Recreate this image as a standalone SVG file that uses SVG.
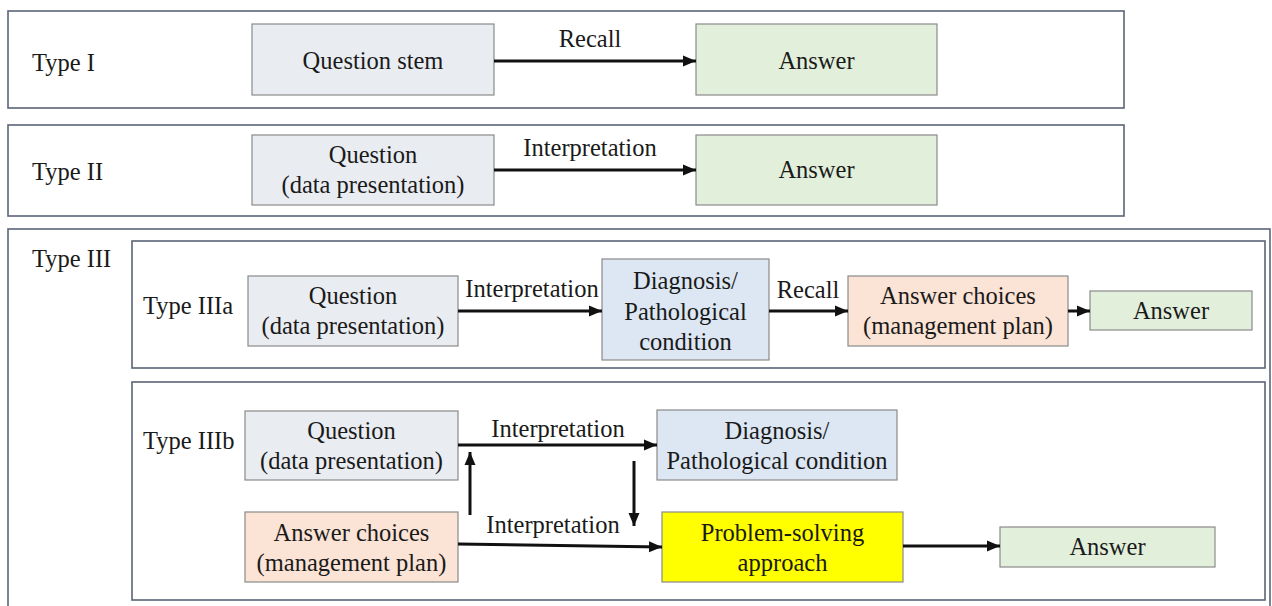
<svg xmlns="http://www.w3.org/2000/svg" width="1272" height="606" viewBox="0 0 1272 606">
<defs>
<marker id="ah" markerUnits="userSpaceOnUse" markerWidth="14" markerHeight="12" refX="13" refY="6" orient="auto">
<path d="M0,0.5 L13,6 L0,11.5 Z" fill="#111"/>
</marker>
<style>
.frame{fill:#fff;stroke:#5b6579;stroke-width:1.6}
.box{stroke:#8a8a8a;stroke-width:1.2}
.q{fill:#e9ecf1}
.a{fill:#e2efda}
.d{fill:#dce7f3}
.c{fill:#fbe3d5}
.y{fill:#ffff00}
text{font-family:"Liberation Serif","Times New Roman",serif;font-size:24.5px;fill:#1a1a1a}
.m{text-anchor:middle}
.conn line{stroke:#111;stroke-width:3;marker-end:url(#ah)}
</style>
</defs>
<rect width="1272" height="606" fill="#fff"/>

<g id="frame-type1">
<rect class="frame" x="8" y="11" width="1116" height="97"/>
<text x="32" y="71">Type I</text>
</g>
<g id="frame-type2">
<rect class="frame" x="8" y="125" width="1116" height="91"/>
<text x="32" y="180">Type II</text>
</g>
<g id="frame-type3">
<rect class="frame" x="8" y="229" width="1262" height="390"/>
<text x="32" y="267">Type III</text>
</g>
<g id="frame-type3a">
<rect class="frame" x="132" y="241" width="1133" height="127"/>
<text x="143" y="314">Type IIIa</text>
</g>
<g id="frame-type3b">
<rect class="frame" x="132" y="382" width="1133" height="218"/>
<text x="143" y="449">Type IIIb</text>
</g>

<g id="t1-question">
<rect class="box q" x="252" y="24" width="242" height="71"/>
<text class="m" x="373" y="69">Question stem</text>
</g>
<g id="t1-answer">
<rect class="box a" x="696" y="24" width="241" height="71"/>
<text class="m" x="816.5" y="69">Answer</text>
</g>

<g id="t2-question">
<rect class="box q" x="252" y="135" width="242" height="70"/>
<text class="m" x="373" y="163">Question</text>
<text class="m" x="373" y="193">(data presentation)</text>
</g>
<g id="t2-answer">
<rect class="box a" x="696" y="135" width="241" height="70"/>
<text class="m" x="816.5" y="178">Answer</text>
</g>

<g id="t3a-question">
<rect class="box q" x="248" y="276" width="210" height="70"/>
<text class="m" x="353" y="304">Question</text>
<text class="m" x="353" y="334">(data presentation)</text>
</g>
<g id="t3a-diagnosis">
<rect class="box d" x="602" y="259" width="167" height="101"/>
<text class="m" x="685.5" y="289">Diagnosis/</text>
<text class="m" x="685.5" y="320">Pathological</text>
<text class="m" x="685.5" y="350">condition</text>
</g>
<g id="t3a-choices">
<rect class="box c" x="848" y="276" width="220" height="70"/>
<text class="m" x="958" y="304">Answer choices</text>
<text class="m" x="958" y="334">(management plan)</text>
</g>
<g id="t3a-answer">
<rect class="box a" x="1090" y="291" width="162" height="39"/>
<text class="m" x="1171" y="319">Answer</text>
</g>

<g id="t3b-question">
<rect class="box q" x="245" y="411" width="213" height="69"/>
<text class="m" x="351.5" y="439">Question</text>
<text class="m" x="351.5" y="469">(data presentation)</text>
</g>
<g id="t3b-diagnosis">
<rect class="box d" x="657" y="410" width="240" height="70"/>
<text class="m" x="777" y="439">Diagnosis/</text>
<text class="m" x="777" y="469">Pathological condition</text>
</g>
<g id="t3b-choices">
<rect class="box c" x="245" y="512" width="213" height="70"/>
<text class="m" x="351.5" y="541">Answer choices</text>
<text class="m" x="351.5" y="571">(management plan)</text>
</g>
<g id="t3b-problem">
<rect class="box y" x="662" y="512" width="241" height="70"/>
<text class="m" x="782.5" y="541">Problem-solving</text>
<text class="m" x="782.5" y="571">approach</text>
</g>
<g id="t3b-answer">
<rect class="box a" x="1000" y="527" width="215" height="40"/>
<text class="m" x="1107.5" y="555">Answer</text>
</g>

<g id="connectors" class="conn">
<line x1="494" y1="61" x2="696" y2="61"/>
<line x1="494" y1="170" x2="696" y2="170"/>
<line x1="458" y1="311" x2="602" y2="311"/>
<line x1="769" y1="311" x2="848" y2="311"/>
<line x1="1068" y1="311" x2="1090" y2="311"/>
<line x1="458" y1="445" x2="657" y2="445"/>
<line x1="470" y1="515" x2="470" y2="452"/>
<line x1="634" y1="461" x2="634" y2="526"/>
<line x1="458" y1="544" x2="662" y2="547"/>
<line x1="903" y1="546" x2="1000" y2="546"/>
</g>
<g id="labels">
<text class="m" x="590" y="47">Recall</text>
<text class="m" x="590" y="156">Interpretation</text>
<text class="m" x="532" y="297">Interpretation</text>
<text class="m" x="808" y="298">Recall</text>
<text class="m" x="558" y="437">Interpretation</text>
<text class="m" x="553" y="533">Interpretation</text>
</g>
</svg>
